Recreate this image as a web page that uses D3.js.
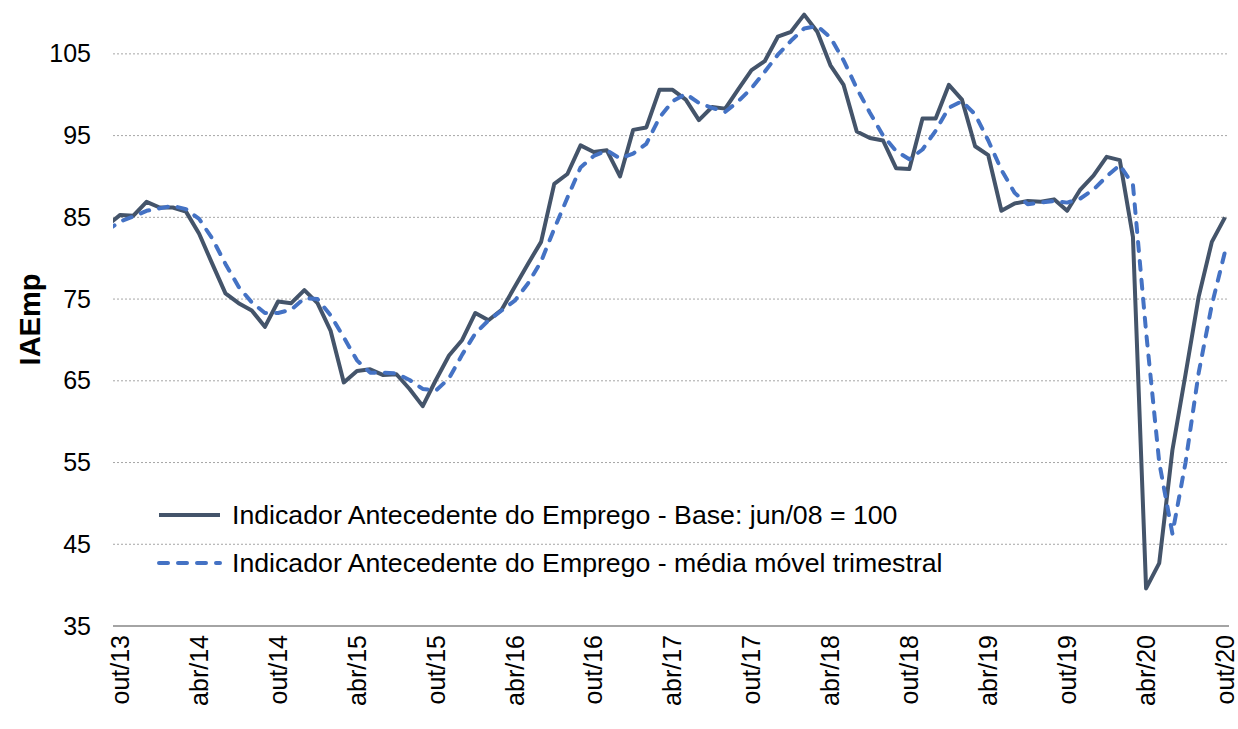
<!DOCTYPE html>
<html>
<head>
<meta charset="utf-8">
<script src="https://cdn.jsdelivr.net/npm/d3@7"></script>
<style>
  body { margin: 0; background: #fff; }
  svg { display: block; }
  text { font-family: "Liberation Sans", Arial, sans-serif; fill: #000; }
</style>
</head>
<body>
<div id="chart"></div>
<script>
// months shown (set/13 sits just left of the plot and gets clipped, like in the original)
const months = [
  'set/13','out/13','nov/13','dez/13',
  'jan/14','fev/14','mar/14','abr/14','mai/14','jun/14','jul/14','ago/14','set/14','out/14','nov/14','dez/14',
  'jan/15','fev/15','mar/15','abr/15','mai/15','jun/15','jul/15','ago/15','set/15','out/15','nov/15','dez/15',
  'jan/16','fev/16','mar/16','abr/16','mai/16','jun/16','jul/16','ago/16','set/16','out/16','nov/16','dez/16',
  'jan/17','fev/17','mar/17','abr/17','mai/17','jun/17','jul/17','ago/17','set/17','out/17','nov/17','dez/17',
  'jan/18','fev/18','mar/18','abr/18','mai/18','jun/18','jul/18','ago/18','set/18','out/18','nov/18','dez/18',
  'jan/19','fev/19','mar/19','abr/19','mai/19','jun/19','jul/19','ago/19','set/19','out/19','nov/19','dez/19',
  'jan/20','fev/20','mar/20','abr/20','mai/20','jun/20','jul/20','ago/20','set/20','out/20'
];

const iaemp = [
  84.0, 85.3, 85.2, 86.9,
  86.2, 86.2, 85.7, 83.0, 79.3, 75.7, 74.5, 73.6, 71.6, 74.7, 74.5, 76.1,
  74.5, 71.1, 64.8, 66.2, 66.4, 65.7, 65.8, 64.0, 61.9, 65.1, 68.1, 70.0,
  73.3, 72.4, 73.7, 76.5, 79.3, 82.0, 89.1, 90.3, 93.8, 93.0, 93.2, 90.0,
  95.7, 96.0, 100.6, 100.6, 99.4, 96.9, 98.5, 98.3, 100.7, 103.0, 104.1, 107.1,
  107.7, 109.8, 107.7, 103.6, 101.2, 95.5, 94.7, 94.4, 91.0, 90.9, 97.1, 97.1,
  101.2, 99.4, 93.7, 92.6, 85.8, 86.7, 87.0, 86.9, 87.2, 85.8, 88.4, 90.1,
  92.4, 92.0, 82.6, 39.6, 42.7, 56.5, 65.8, 75.3, 82.0, 85.0
];

const mediaMovel = [
  83.4, 84.5, 85.1, 85.8,
  86.1, 86.4, 86.0, 84.8, 82.4, 79.3, 76.5, 74.6, 73.3, 73.3, 73.7, 75.1,
  75.0, 73.0, 70.3, 67.5, 66.0, 66.0, 65.9, 65.1, 64.0, 63.8, 65.3, 68.2,
  70.8, 72.4, 73.6, 74.8, 76.9, 79.6, 83.6, 87.4, 91.1, 92.5, 93.2, 92.2,
  92.8, 94.0, 97.2, 99.2, 100.1, 99.0, 98.4, 97.9, 99.2, 100.8, 102.8, 104.9,
  106.6, 108.1, 108.4, 107.0, 104.2, 100.8, 97.8, 95.0, 93.1, 92.1, 93.3, 95.6,
  98.4, 99.2, 97.6, 94.4, 90.8, 88.0, 86.6, 86.8, 87.0, 86.8, 87.3, 88.4,
  90.0, 91.4, 89.0, 71.0, 55.0, 46.3, 55.0, 66.0, 74.3, 80.8
];

const xTickLabels = ['out/13','abr/14','out/14','abr/15','out/15','abr/16','out/16','abr/17',
                     'out/17','abr/18','out/18','abr/19','out/19','abr/20','out/20'];
const yTicks = [35, 45, 55, 65, 75, 85, 95, 105];
const seriesNames = [
  'Indicador Antecedente do Emprego - Base: jun/08 = 100',
  'Indicador Antecedente do Emprego - média móvel trimestral'
];

const width = 1238, height = 729;
const margin = {top: 13, left: 113};
const plotW = 1112, plotH = 613;

const svg = d3.select('#chart').append('svg')
  .attr('width', width)
  .attr('height', height);

const g = svg.append('g')
  .attr('transform', 'translate(' + margin.left + ',' + margin.top + ')');

// scales
const x = d3.scaleLinear().domain([0.45, months.length - 1]).range([0, plotW]);
const y = d3.scaleLinear().domain([35, 110]).range([plotH, 0]);

// gridlines
g.append('g')
  .selectAll('line')
  .data(yTicks.filter(d => d > 35))
  .enter().append('line')
    .attr('x1', 0)
    .attr('x2', plotW + 4)
    .attr('y1', d => y(d))
    .attr('y2', d => y(d))
    .attr('stroke', '#a6a6a6')
    .attr('stroke-width', 1)
    .attr('stroke-dasharray', '2,2');

// y axis (labels only)
const yAxis = d3.axisLeft(y).tickValues(yTicks).tickSize(0).tickPadding(22);
g.append('g')
  .attr('id', 'y-axis')
  .call(yAxis)
  .call(a => a.select('.domain').remove())
  .selectAll('text')
    .style('font-size', '25px')
    .attr('fill', '#000');

// x axis line
g.append('line')
  .attr('x1', 0).attr('x2', plotW + 4)
  .attr('y1', plotH).attr('y2', plotH)
  .attr('stroke', '#868686')
  .attr('stroke-width', 1.5);

// x tick labels, rotated
g.append('g')
  .selectAll('text')
  .data(xTickLabels)
  .enter().append('text')
    .attr('transform', d => 'translate(' + x(months.indexOf(d)) + ',' + (plotH + 9) + ') rotate(-90)')
    .attr('text-anchor', 'end')
    .attr('dy', '0.35em')
    .style('font-size', '25px')
    .text(d => d);

// axis title
svg.append('text')
  .attr('transform', 'translate(30,' + (margin.top + plotH / 2) + ') rotate(-90)')
  .attr('text-anchor', 'middle')
  .attr('dy', '0.35em')
  .style('font-size', '29px')
  .style('font-weight', 'bold')
  .text('IAEmp');

// lines
g.append('clipPath').attr('id', 'clip')
  .append('rect').attr('x', 0).attr('y', -20).attr('width', plotW + 4).attr('height', plotH + 20);

const line = d3.line()
  .x((d, i) => x(i))
  .y(d => y(d));

g.append('path')
  .datum(iaemp)
  .attr('clip-path', 'url(#clip)')
  .attr('fill', 'none')
  .attr('stroke', '#44546a')
  .attr('stroke-width', 4)
  .attr('stroke-linejoin', 'round')
  .attr('d', line);

g.append('path')
  .datum(mediaMovel)
  .attr('clip-path', 'url(#clip)')
  .attr('fill', 'none')
  .attr('stroke', '#4472c4')
  .attr('stroke-width', 4)
  .attr('stroke-linecap', 'round')
  .attr('stroke-linejoin', 'round')
  .attr('stroke-dasharray', '9,10')
  .attr('d', line);

// legend
const legend = svg.append('g').attr('transform', 'translate(157,515)');
const styles = [
  {color: '#44546a', dash: null},
  {color: '#4472c4', dash: '9,10'}
];
seriesNames.forEach((name, i) => {
  const row = legend.append('g').attr('transform', 'translate(0,' + (i * 48) + ')');
  row.append('line')
    .attr('x1', 2).attr('x2', 63)
    .attr('y1', 0).attr('y2', 0)
    .attr('stroke', styles[i].color)
    .attr('stroke-width', 4)
    .attr('stroke-linecap', styles[i].dash ? 'round' : 'butt')
    .attr('stroke-dasharray', styles[i].dash);
  row.append('text')
    .attr('x', 75)
    .attr('dy', '0.35em')
    .style('font-size', '26.7px')
    .text(name);
});
</script>
</body>
</html>
